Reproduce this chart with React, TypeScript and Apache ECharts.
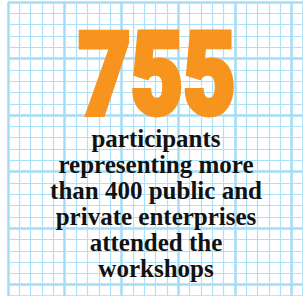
import React, { useEffect, useRef } from "react";
import * as echarts from "echarts";

const bigNumber = "755";
const captionLines = [
  "participants",
  "representing more",
  "than 400 public and",
  "private enterprises",
  "attended the",
  "workshops",
];
const gridCols = 26;
const gridRows = 26;
const majorEvery = 5;

export default function App() {
  const ref = useRef<HTMLDivElement>(null);
  useEffect(() => {
    if (!ref.current) return;
    const chart = echarts.init(ref.current, undefined, { renderer: "svg" });
    const cellW = 11.875;
    const cellH = 11.75;
    const thin = { show: true, lineStyle: { color: "#ade1f7", width: 1.2 } };
    const thick = { show: true, lineStyle: { color: "#a6ddf6", width: 2.5 } };
    const hidden = { axisLine: { show: false }, axisTick: { show: false }, axisLabel: { show: false } };
    const centerX = 156;
    const baselines = [147, 173, 199, 225, 251, 277];
    const graphics: any[] = [
      {
        type: "group",
        x: 157,
        y: 75,
        scaleX: 0.82,
        scaleY: 1.04,
        z: 100,
        children: [
          {
            type: "text",
            x: 0,
            y: 0,
            z: 100,
            style: {
              text: bigNumber,
              fill: "#f7941e",
              stroke: "#f7941e",
              lineWidth: 5,
              font: "900 110px Roboto",
              textAlign: "center",
              textVerticalAlign: "middle",
            },
          },
        ],
      },
      ...captionLines.map((t, i) => ({
        type: "text",
        x: centerX,
        y: baselines[i] - 8.5,
        z: 100,
        style: {
          text: t,
          fill: "#111111",
          font: "bold 25px serif",
          textAlign: "center",
          textVerticalAlign: "middle",
        },
      })),
    ];
    chart.setOption({
      animation: false,
      grid: [
        { left: 8, top: 2, width: cellW * gridCols, height: cellH * gridRows, show: false },
      ],
      xAxis: [
        { type: "value", min: 0, max: gridCols, interval: 1, splitLine: thin, ...hidden },
        { type: "value", min: 0, max: gridCols, interval: majorEvery, splitLine: thick, position: "top", ...hidden },
      ],
      yAxis: [
        { type: "value", min: 0, max: gridRows, interval: 1, inverse: true, splitLine: thin, ...hidden },
        { type: "value", min: 0, max: gridRows, interval: majorEvery, inverse: true, splitLine: thick, position: "right", ...hidden },
      ],
      series: [
        { type: "scatter", data: [], xAxisIndex: 0, yAxisIndex: 0 },
        { type: "scatter", data: [], xAxisIndex: 1, yAxisIndex: 1 },
      ],
      graphic: graphics,
    });
    return () => chart.dispose();
  }, []);
  return (
    <div
      ref={ref}
      style={{ position: "fixed", left: 0, top: 0, width: 303, height: 296, background: "#ffffff" }}
    />
  );
}
